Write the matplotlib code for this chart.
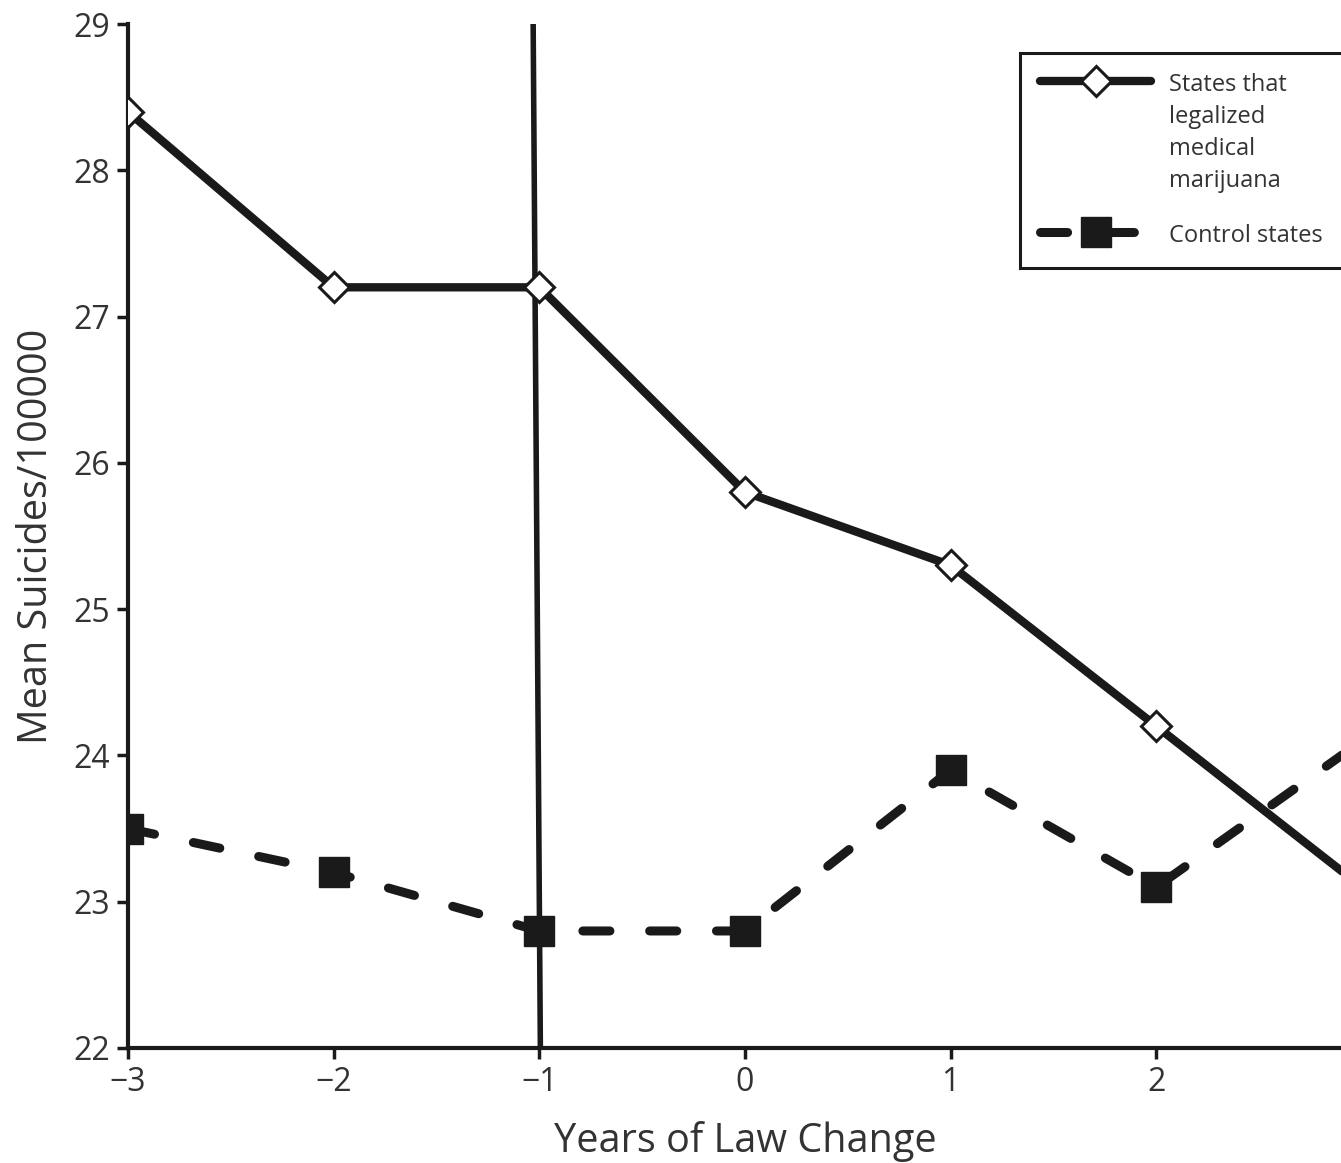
import matplotlib
matplotlib.use('Agg')
import matplotlib.pyplot as plt

# Datos
years = [-3, -2, -1, 0, 1, 2, 3]
legalized = [28.4, 27.2, 27.2, 25.8, 25.3, 24.2, 23.1]
control = [23.5, 23.2, 22.8, 22.8, 23.9, 23.1, 24.1]
law_line_x = [-1.03, -0.995]
law_line_y = [29, 22]

plt.rcParams['font.family'] = ['Open Sans', 'DejaVu Sans']

fig = plt.figure(figsize=(13.41, 11.63), dpi=100)
ax = fig.add_axes([128 / 1341, 115 / 1163, 1234 / 1341, 1024 / 1163])

ax.plot(law_line_x, law_line_y, color='#1a1a1a', lw=4, zorder=2)

ax.plot(years, legalized, color='#1a1a1a', lw=6, marker='D', markersize=15,
        markerfacecolor='white', markeredgecolor='#1a1a1a', markeredgewidth=2.2,
        solid_capstyle='round', zorder=4,
        label='States that\nlegalized\nmedical\nmarijuana')
ax.plot(years, control, color='#1a1a1a', lw=6.5, marker='s', markersize=22,
        markerfacecolor='#1a1a1a', markeredgecolor='#1a1a1a',
        dashes=(3.0, 4.4), dash_capstyle='round', zorder=3,
        label='Control states')

ax.set_xlim(-3, 3)
ax.set_ylim(22, 29)
ax.set_xticks([-3, -2, -1, 0, 1, 2])
ax.set_xticklabels(['\u22123', '\u22122', '\u22121', '0', '1', '2'])
ax.set_yticks(range(22, 30))

for s in ['top', 'right']:
    ax.spines[s].set_visible(False)
for s in ['left', 'bottom']:
    ax.spines[s].set_linewidth(3)
    ax.spines[s].set_color('#1a1a1a')
ax.tick_params(direction='out', length=8, width=2.5, color='#1a1a1a',
               labelsize=23, labelcolor='#333333', pad=5)

ax.set_xlabel('Years of Law Change', fontsize=28.5, color='#333333', labelpad=16)
ax.set_ylabel('Mean Suicides/100000', fontsize=28.5, color='#333333', labelpad=12)

leg = ax.legend(loc='upper left', bbox_to_anchor=(1020 / 1341, 1 - 53 / 1163),
                bbox_transform=fig.transFigure, fontsize=17, handlelength=4.7,
                handletextpad=0.75, borderpad=0.85, borderaxespad=0,
                labelspacing=1.3, fancybox=False, framealpha=1,
                edgecolor='#1a1a1a')
leg.get_frame().set_linewidth(2.2)
for t in leg.get_texts():
    t.set_color('#333333')
    t.set_linespacing(1.45)
# poner el símbolo a la altura de la primera línea del texto
for col in leg._legend_handle_box.get_children():
    for fila in col.get_children():
        fila.align = 'top'

fig.savefig('out.png', dpi=100)
